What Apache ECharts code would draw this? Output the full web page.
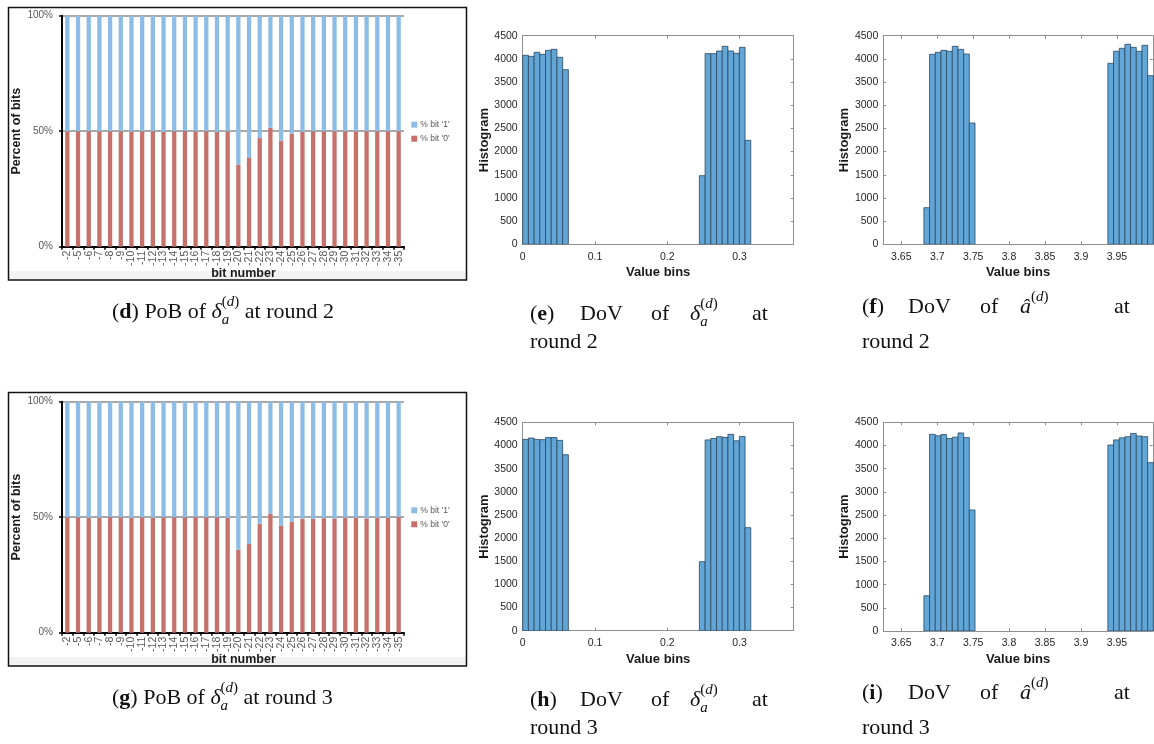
<!DOCTYPE html>
<html><head><meta charset="utf-8">
<script src="https://cdn.jsdelivr.net/npm/echarts@6/dist/echarts.min.js"></script>
<style>html,body{margin:0;padding:0;background:#fff;}#c{width:1154px;height:744px;}</style>
</head><body><div id="c"></div>
<script>
// ---------------- data ----------------
const bitCategories = ['-2','-5','-6','-7','-8','-9','-10','-11','-12','-13','-14','-15','-16','-17','-18','-19',
  '-20','-21','-22','-23','-24','-25','-26','-27','-28','-29','-30','-31','-32','-33','-34','-35'];
// percent of bit '0' per bit position
const pobRound2Zero = [50,50,50,50,50,50,49.9,50,50,49.7,50,50.1,50,50,49.7,50,
  35.5,38.4,47.0,51.5,45.9,48.9,49.8,50,50,50,50,50,50,50,50,50];
const pobRound3Zero = [50,50,49.8,49.8,50.1,50,49.7,50,49.8,50,50,50,50.1,50,50,49.7,
  35.9,38.4,47.2,51.5,46.3,48.1,49.4,49.2,49.6,49.5,49.8,49.8,49.5,49.8,49.8,50.1];
const pobYTicks = [0, 50, 100];

const binWidth = 0.0079;
// delta_a histogram: bin left edges and counts
const deltaBinEdges = [0,0.0079,0.0158,0.0237,0.0316,0.0395,0.0474,0.0553,
  0.2445,0.2524,0.2603,0.2682,0.2761,0.2840,0.2919,0.2998,0.3077];
const deltaCountsRound2 = [4077,4055,4141,4098,4184,4206,4034,3767,
  1481,4113,4113,4170,4271,4170,4120,4249,2243];
const deltaCountsRound3 = [4130,4160,4130,4125,4170,4170,4110,3800,
  1490,4120,4150,4190,4175,4240,4100,4195,2225];
// a-hat histogram
const aHatBinEdges = [3.6815,3.6894,3.6973,3.7052,3.7131,3.7210,3.7289,3.7368,3.7447,
  3.9375,3.9454,3.9533,3.9612,3.9691,3.9770,3.9849,3.9928];
const aHatCountsRound2 = [790,4098,4141,4184,4163,4271,4206,4105,2617,
  3904,4163,4228,4314,4249,4163,4292,3638];
const aHatCountsRound3 = [760,4240,4210,4235,4150,4180,4270,4170,2610,
  4010,4120,4165,4190,4260,4205,4190,3630];
const deltaXTicks = [0, 0.1, 0.2, 0.3];
const aHatXTicks = [3.65, 3.7, 3.75, 3.8, 3.85, 3.9, 3.95];
const histYTicks = [0, 500, 1000, 1500, 2000, 2500, 3000, 3500, 4000, 4500];

const ONE_NAME = "% bit '1'", ZERO_NAME = "% bit '0'";
// ---------------- styles ----------------
const BLUE = '#8DBDE6', RED = '#C6716A';
const HFILL = '#61a6d7', HEDGE = '#2b4860', AX = '#8f8f8f';
const SANS = '"Liberation Sans", Arial, sans-serif';
const SERIF = '"Liberation Serif", "DejaVu Serif", serif';

const grids = [
  {left:62, top:15.7, width:342, height:231},
  {left:522.7, top:35.7, width:271, height:208.6},
  {left:883.3, top:35.7, width:269.5, height:208.6},
  {left:62, top:401.7, width:342, height:231},
  {left:522.7, top:422.3, width:271, height:208.4},
  {left:883.3, top:422.3, width:269.5, height:208.7}
];
const xAxes = [], yAxes = [], series = [];

function addPob(gi, zeroVals) {
  const xi = xAxes.length;
  xAxes.push({type:'category', gridIndex:gi, data:bitCategories, boundaryGap:true,
    axisLine:{lineStyle:{color:'#000', width:2}},
    axisTick:{show:true, length:3, lineStyle:{color:'#000', width:1.5}},
    axisLabel:{interval:0, rotate:90, fontSize:10.5, color:'#595959', margin:4, fontFamily:SANS},
    splitLine:{show:false}});
  const yi = yAxes.length;
  yAxes.push({type:'value', gridIndex:gi, min:pobYTicks[0], max:pobYTicks[2], interval:pobYTicks[1],
    axisLine:{show:true, lineStyle:{color:'#000', width:2}},
    axisTick:{show:true, length:3, lineStyle:{color:'#000', width:1.5}},
    axisLabel:{formatter:'{value}%', fontSize:10, color:'#595959', margin:9, fontFamily:SANS},
    splitLine:{show:true, lineStyle:{color:'#8c8c8c', width:1.5}},
    name:'Percent of bits', nameLocation:'middle', nameGap:37,
    nameTextStyle:{fontWeight:'bold', fontSize:12.5, color:'#1a1a1a', fontFamily:SANS}});
  series.push({type:'bar', name:ZERO_NAME, xAxisIndex:xi, yAxisIndex:yi, stack:'pob'+gi,
    data:zeroVals, barWidth:'40%', itemStyle:{color:RED}});
  series.push({type:'bar', name:ONE_NAME, xAxisIndex:xi, yAxisIndex:yi, stack:'pob'+gi,
    data:zeroVals.map(v => +(100 - v).toFixed(2)), barWidth:'40%', itemStyle:{color:BLUE}});
}

function histRender(params, api) {
  const x0 = api.value(0), h = api.value(1);
  const p0 = api.coord([x0, h]);
  const p1 = api.coord([x0 + binWidth, 0]);
  return {type:'rect', shape:{x:p0[0], y:p0[1], width:p1[0]-p0[0], height:p1[1]-p0[1]},
    style:{fill:HFILL, stroke:HEDGE, lineWidth:0.8}};
}

function addHist(gi, edges, counts, min, max, ticks) {
  const xi = xAxes.length;
  const line = {show:true, onZero:false, lineStyle:{color:AX, width:1}};
  const tick = {show:true, inside:true, length:3, customValues:ticks, lineStyle:{color:AX}};
  xAxes.push({type:'value', gridIndex:gi, min, max, position:'bottom', splitLine:{show:false},
    axisLine:line, axisTick:tick,
    axisLabel:{customValues:ticks, fontSize:10.5, color:'#262626', margin:7, fontFamily:SANS,
      formatter:v => String(v)},
    name:'Value bins', nameLocation:'middle', nameGap:22,
    nameTextStyle:{fontWeight:'bold', fontSize:13, color:'#1a1a1a', fontFamily:SANS}});
  xAxes.push({type:'value', gridIndex:gi, min, max, position:'top', splitLine:{show:false},
    axisLine:line, axisTick:tick, axisLabel:{show:false}});
  const yi = yAxes.length;
  const ytick = {show:true, inside:true, length:3, lineStyle:{color:AX}};
  yAxes.push({type:'value', gridIndex:gi, min:histYTicks[0], max:histYTicks[histYTicks.length-1],
    interval:histYTicks[1]-histYTicks[0], position:'left', splitLine:{show:false},
    axisLine:line, axisTick:ytick,
    axisLabel:{fontSize:10.5, color:'#262626', margin:5, fontFamily:SANS, formatter:v => String(v)},
    name:'Histogram', nameLocation:'middle', nameGap:31,
    nameTextStyle:{fontWeight:'bold', fontSize:13, color:'#1a1a1a', fontFamily:SANS}});
  yAxes.push({type:'value', gridIndex:gi, min:histYTicks[0], max:histYTicks[histYTicks.length-1],
    interval:histYTicks[1]-histYTicks[0], position:'right', splitLine:{show:false},
    axisLine:line, axisTick:ytick, axisLabel:{show:false}});
  series.push({type:'custom', xAxisIndex:xi, yAxisIndex:yi, renderItem:histRender, clip:true,
    encode:{x:0, y:1}, data:edges.map((e, i) => [e, counts[i]])});
}

addPob(0, pobRound2Zero);
addHist(1, deltaBinEdges, deltaCountsRound2, 0, 0.375, deltaXTicks);
addHist(2, aHatBinEdges, aHatCountsRound2, 3.625, 4.0, aHatXTicks);
addPob(3, pobRound3Zero);
addHist(4, deltaBinEdges, deltaCountsRound3, 0, 0.375, deltaXTicks);
addHist(5, aHatBinEdges, aHatCountsRound3, 3.625, 4.0, aHatXTicks);

function legendAt(top) {
  return {data:[ONE_NAME, ZERO_NAME], orient:'vertical', left:411.3, top:top, padding:0,
    itemWidth:6, itemHeight:6, itemGap:4, icon:'rect', selectedMode:false,
    textStyle:{fontSize:8.5, lineHeight:10, color:'#595959', fontFamily:SANS, padding:[0,0,0,-2]}};
}

// ---------------- captions ----------------
const mctx = document.createElement('canvas').getContext('2d');
function fontStr(p) { return (p.i ? 'italic ' : '') + (p.b ? 'bold ' : '') + (p.s || 22) + 'px ' + SERIF; }
function measure(p) { mctx.font = fontStr(p); return mctx.measureText(p.t).width; }
function captionLine(x, y, parts) {
  const els = []; let cx = x;
  for (const p of parts) {
    if (p.at !== undefined) cx = p.at;
    els.push({type:'text', x:cx, y:y + (p.dy || 0), z:10,
      style:{text:p.t, font:fontStr(p), fill:'#111', align:'left', verticalAlign:'middle'}});
    if (!p.keep) cx += measure(p);
  }
  return els;
}
function deltaSym(extra) {
  return [{t:'δ', i:true, ...(extra||{})}, {t:'a', i:true, s:15, dy:8, keep:true},
    {t:'(', s:15, dy:-10}, {t:'d', i:true, s:15, dy:-10}, {t:')', s:15, dy:-10}];
}
function aHatSym(extra) {
  return [{t:'â', i:true, ...(extra||{})}, {t:'(', s:15, dy:-10}, {t:'d', i:true, s:15, dy:-10}, {t:')', s:15, dy:-10}];
}
function captionsFor(letters, round, yD, yE1, yF1, y2) {
  let els = [];
  els = els.concat(captionLine(112, yD, [{t:'('}, {t:letters[0], b:true}, {t:') PoB of '},
    ...deltaSym(), {t:' at round ' + round}]));
  els = els.concat(captionLine(530, yE1, [{t:'('}, {t:letters[1], b:true}, {t:')'},
    {t:'DoV', at:580}, {t:'of', at:651}, ...deltaSym({at:690}), {t:'at', at:752}]));
  els = els.concat(captionLine(530, y2, [{t:'round ' + round}]));
  els = els.concat(captionLine(862, yF1, [{t:'('}, {t:letters[2], b:true}, {t:')'},
    {t:'DoV', at:908}, {t:'of', at:980}, ...aHatSym({at:1020}), {t:'at', at:1114}]));
  els = els.concat(captionLine(862, y2, [{t:'round ' + round}]));
  return els;
}

const graphics = [
  {type:'rect', shape:{x:9, y:271, width:457, height:8.5}, style:{fill:'#f2f2f2'}, z:-1},
  {type:'rect', shape:{x:9, y:657, width:457, height:8.5}, style:{fill:'#f2f2f2'}, z:-1},
  {type:'rect', shape:{x:8.5, y:7.5, width:458, height:272.5}, style:{fill:'none', stroke:'#111', lineWidth:1.5}},
  {type:'rect', shape:{x:8.5, y:392.5, width:458, height:273.5}, style:{fill:'none', stroke:'#111', lineWidth:1.5}},
  {type:'text', x:243.5, y:274, style:{text:'bit number', font:'bold 12.5px ' + SANS, fill:'#1a1a1a', align:'center', verticalAlign:'middle'}},
  {type:'text', x:243.5, y:660, style:{text:'bit number', font:'bold 12.5px ' + SANS, fill:'#1a1a1a', align:'center', verticalAlign:'middle'}},
  ...captionsFor(['d','e','f'], 2, 312, 314, 307, 342),
  ...captionsFor(['g','h','i'], 3, 698, 700, 693, 728)
];

const chart = echarts.init(document.getElementById('c'), null, {renderer:'canvas'});
chart.setOption({
  animation:false,
  backgroundColor:'#fff',
  textStyle:{fontFamily:SANS},
  grid:grids,
  xAxis:xAxes,
  yAxis:yAxes,
  legend:[legendAt(119.7), legendAt(505.3)],
  series:series,
  graphic:graphics
});
</script></body></html>
